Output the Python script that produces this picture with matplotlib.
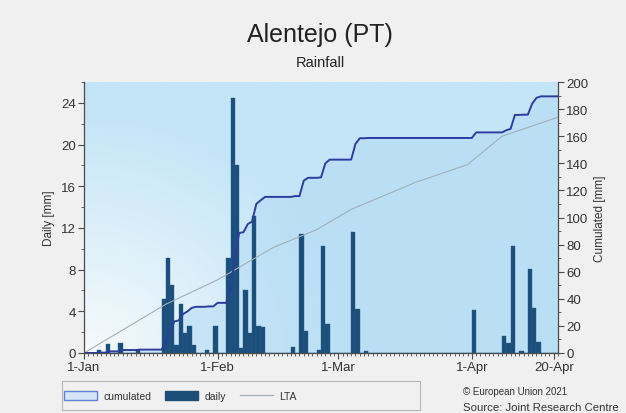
import numpy as np
import matplotlib
matplotlib.use("Agg")
import matplotlib.pyplot as plt
from matplotlib.ticker import MultipleLocator
from matplotlib.patches import Patch, Rectangle
from matplotlib.lines import Line2D
from matplotlib.colors import LinearSegmentedColormap

plt.rcParams["font.family"] = ["Liberation Sans", "DejaVu Sans"]

# Data: day index (0 = 1-Jan) and daily rainfall in mm
n_days = 110
rain_days = [3, 5, 8, 12,
             18, 19, 20, 21, 22, 23, 24, 25,
             28, 30,
             33, 34, 35, 36, 37, 38, 39, 40, 41,
             48, 50, 51, 54, 55, 56, 62, 63, 65,
             90, 97, 98, 99, 101, 103, 104, 105]
rain_mm = [0.3, 0.9, 1.0, 0.3,
           5.2, 9.1, 6.5, 0.8, 4.7, 1.9, 2.6, 0.8,
           0.3, 2.6,
           9.1, 24.5, 18.0, 0.5, 6.0, 1.9, 13.1, 2.6, 2.5,
           0.6, 11.4, 2.1, 0.3, 10.3, 2.8, 11.6, 4.2, 0.2,
           4.1, 1.6, 1.0, 10.3, 0.2, 8.1, 4.3, 1.1]

# long term average (cumulated), read at a few days
lta_days = [0, 19, 31, 44, 54, 62, 77, 89, 97, 110]
lta_mm = [0, 36, 54, 78, 91, 106, 126, 139, 160, 174]

tick_days = [0, 31, 59, 90, 109]
tick_labels = ["1-Jan", "1-Feb", "1-Mar", "1-Apr", "20-Apr"]

daily = np.zeros(n_days)
daily[rain_days] = rain_mm
days = np.arange(n_days)
cum_x = np.concatenate([[0], days + 1])
cum_y = np.concatenate([[0], np.cumsum(daily)])

bar_color = "#1b4e79"
cum_color = "#2c3d9f"
lta_color = "#a3afb6"
axis_color = "#4a4a4a"
text_color = "#333333"

fig = plt.figure(figsize=(6.26, 4.14), dpi=100, facecolor="#f0f0f0")
ax = fig.add_axes([84 / 626, 60 / 414, 474 / 626, 271 / 414])
ax2 = ax.twinx()
ax3 = ax.twinx()

ax2.set_zorder(1)
ax.set_zorder(2)
ax3.set_zorder(3)
ax.patch.set_visible(False)

# background gradient (pale at bottom-left, light blue elsewhere)
gx, gy = np.meshgrid(np.linspace(0, 1, 200), np.linspace(0, 1, 200))
grad = np.clip(np.hypot(gx / 0.55, gy / 0.9), 0, 1)
cmap = LinearSegmentedColormap.from_list("bg", ["#f6fafc", "#c3e5f7"])
ax2.imshow(grad, cmap=cmap, origin="lower", aspect="auto",
           extent=[0, n_days, 0, 200], zorder=0, interpolation="bilinear")

# cumulated fill
ax2.fill_between(cum_x, cum_y, color="#b4dbf5", alpha=0.55, lw=0, zorder=1)

# daily bars
ax.bar(days, daily, width=1.0, align="edge", color=bar_color,
       edgecolor="#2a6090", linewidth=0.3)

# cumulated and LTA lines
ax3.plot(lta_days, lta_mm, color=lta_color, lw=0.8)
ax3.plot(cum_x, cum_y, color=cum_color, lw=1.4)

for a in (ax, ax2, ax3):
    a.set_xlim(0, n_days)
ax.set_ylim(0, 26)
ax2.set_ylim(0, 200)
ax3.set_ylim(0, 200)
ax3.axis("off")

ax.set_xticks(tick_days)
ax.set_xticklabels(tick_labels)
ax.xaxis.set_minor_locator(MultipleLocator(1))
ax.set_yticks(np.arange(0, 25, 4))
ax.yaxis.set_minor_locator(MultipleLocator(2))
ax2.set_yticks(np.arange(0, 201, 20))
ax2.yaxis.set_minor_locator(MultipleLocator(10))

for a in (ax, ax2):
    a.tick_params(which="major", length=4, width=0.8, color=axis_color,
                  labelsize=9.5, labelcolor=text_color, pad=2)
    a.tick_params(which="minor", length=2, width=0.6, color=axis_color)
    for s in a.spines.values():
        s.set_color(axis_color)
        s.set_linewidth(0.9)
    a.spines["top"].set_visible(False)
ax.spines["right"].set_visible(False)
ax2.spines["left"].set_visible(False)
ax2.spines["bottom"].set_visible(False)

ax.set_ylabel("Daily [mm]", fontsize=8.5, color=text_color, labelpad=4)
ax2.set_ylabel("Cumulated [mm]", fontsize=8.5, color=text_color, labelpad=4)

fig.text(0.511, 0.915, "Alentejo (PT)", ha="center", va="center",
         fontsize=18, color="#222222")
fig.text(0.511, 0.847, "Rainfall", ha="center", va="center",
         fontsize=10.5, color="#222222")

# legend frame and entries
fig.patches.append(Rectangle((62 / 626, 3 / 414), 358 / 626, 29 / 414,
                             transform=fig.transFigure, facecolor="#f0f0f0",
                             edgecolor="#b5b5b5", lw=0.8))
handles = [Patch(facecolor="#d6e6f8", edgecolor="#5f82d2", lw=1.0),
           Patch(facecolor=bar_color, edgecolor=bar_color),
           Line2D([0], [0], color=lta_color, lw=0.9)]
leg = fig.legend(handles, ["cumulated", "daily", "LTA"], ncol=3,
                 loc="center left", bbox_to_anchor=(64 / 626, 17 / 414),
                 fontsize=7.5, frameon=False,
                 handlelength=3.2, handleheight=0.9, handletextpad=0.6,
                 columnspacing=1.3, borderpad=0, borderaxespad=0)
for t in leg.get_texts():
    t.set_color(text_color)

fig.text(463 / 626, 1 - 392 / 414, "\u00a9 European Union 2021",
         fontsize=7, color=text_color, va="center")
fig.text(463 / 626, 1 - 408 / 414, "Source: Joint Research Centre",
         fontsize=8.2, color=text_color, va="center")

fig.savefig("out.png", dpi=100, facecolor=fig.get_facecolor())
